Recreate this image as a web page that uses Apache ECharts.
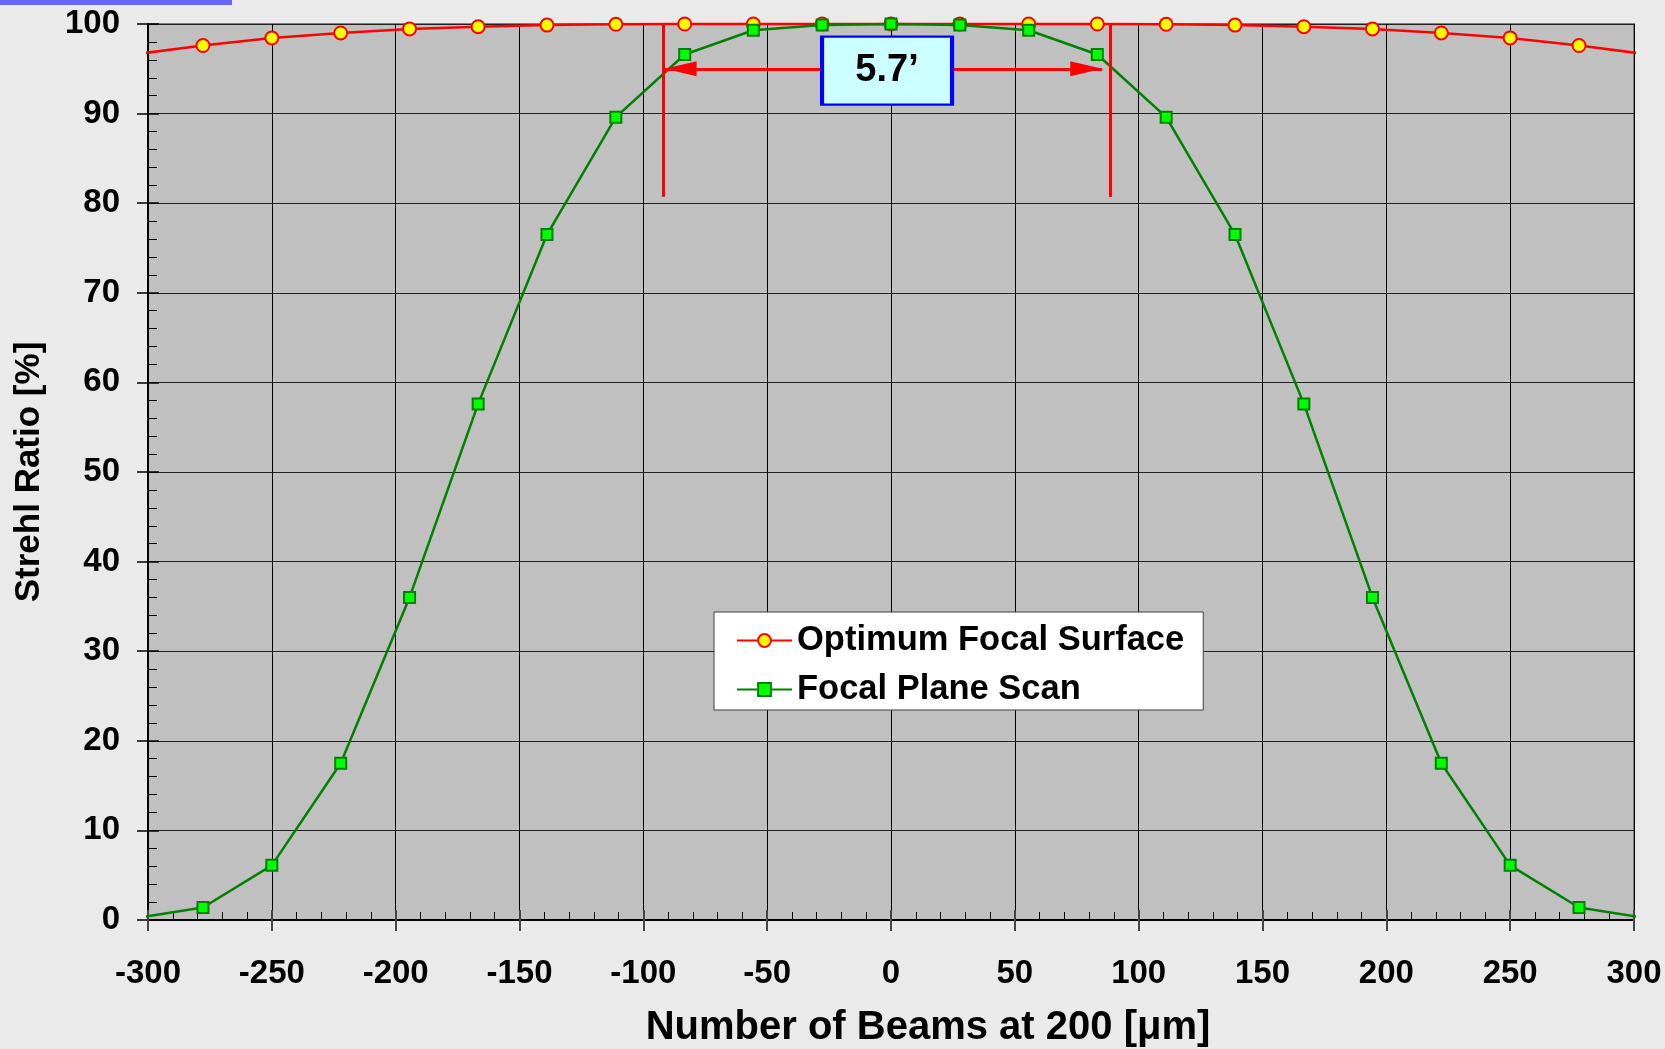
<!DOCTYPE html>
<html>
<head>
<meta charset="utf-8">
<script src="https://cdn.jsdelivr.net/npm/echarts@6/dist/echarts.min.js"></script>
<style>
html,body{margin:0;padding:0;background:#eaeaea;}
#chart{width:1665px;height:1049px;}
</style>
</head>
<body>
<div id="chart"></div>
<script>
// ---- data ----
const xPositions = [-303, -277.8, -250, -222.2, -194.4, -166.7, -138.9, -111.1, -83.3, -55.6, -27.8, 0,
                    27.8, 55.6, 83.3, 111.1, 138.9, 166.7, 194.4, 222.2, 250, 277.8, 303];
const optimumValues = [96.7, 97.6, 98.45, 99.0, 99.45, 99.7, 99.88, 99.97, 100, 100, 100, 100,
                       100, 100, 100, 99.97, 99.88, 99.7, 99.45, 99.0, 98.45, 97.6, 96.7];
const scanValues = [0.3, 1.4, 6.1, 17.5, 36.0, 57.6, 76.5, 89.6, 96.6, 99.3, 99.9, 100,
                    99.9, 99.3, 96.6, 89.6, 76.5, 57.6, 36.0, 17.5, 6.1, 1.4, 0.3];
const seriesNames = ['Optimum Focal Surface', 'Focal Plane Scan'];
const xTitle = 'Number of Beams at 200 [\u03bcm]';
const yTitle = 'Strehl Ratio [%]';
// annotation (data coordinates)
const bracketX = [-92.1, 88.6];
const bracketY = [100, 80.7];
const arrowTipsX = [-91.4, 85.3];
const arrowY = 95;
const boxCenter = [-1.6, 94.8];
const boxLabel = '5.7\u2019';

const FONT = "'Liberation Sans', Arial, sans-serif";

function pairs(xs, ys) {
  return xs.map((x, i) => {
    const item = { value: [x, ys[i]] };
    if (i === 0 || i === xs.length - 1) item.symbol = 'none';
    return item;
  });
}

const chart = echarts.init(document.getElementById('chart'), null, { renderer: 'canvas' });

const commonX = { type: 'value', min: -300, max: 300, interval: 50 };
const commonY = { type: 'value', min: 0, max: 100, interval: 10 };

const option = {
  backgroundColor: '#eaeaea',
  animation: false,
  textStyle: { fontFamily: FONT },
  graphic: [{
    type: 'rect', left: 0, top: 0, shape: { width: 232, height: 5 },
    style: { fill: '#6666ff' }, silent: true
  }],
  grid: {
    left: 148, right: 31, top: 24, bottom: 129,
    containLabel: false, outerBoundsMode: 'none',
    show: true, backgroundColor: '#c0c0c0', borderColor: '#808080', borderWidth: 2
  },
  legend: {
    orient: 'vertical', left: 714, top: 612,
    padding: [11, 19, 3, 22],
    backgroundColor: '#ffffff', borderColor: '#404040', borderWidth: 1,
    itemWidth: 55, itemHeight: 16, itemGap: 14,
    textStyle: { fontSize: 34.5, fontWeight: 'bold', color: '#000', fontFamily: FONT },
    data: seriesNames
  },
  xAxis: [
    Object.assign({}, commonX, {
      position: 'bottom',
      name: xTitle, nameLocation: 'middle', nameGap: 88,
      nameTextStyle: { fontSize: 40, fontWeight: 'bold', color: '#000', fontFamily: FONT, padding: [0, 0, 0, 74] },
      axisLine: { show: true, onZero: false, lineStyle: { color: '#000', width: 2 } },
      axisTick: { show: true, inside: false, length: 11, lineStyle: { color: '#444', width: 2 } },
      axisLabel: { show: true, margin: 37, fontSize: 33, fontWeight: 'bold', color: '#000', fontFamily: FONT },
      splitLine: { show: true, lineStyle: { color: '#000', width: 1 } }
    }),
    Object.assign({}, commonX, {
      position: 'bottom',
      axisLine: { show: false, onZero: false },
      axisTick: { show: true, inside: true, length: 10, lineStyle: { color: '#444', width: 2 } },
      minorTick: { show: true, splitNumber: 5, length: 8, lineStyle: { color: '#000', width: 1 } },
      axisLabel: { show: false },
      splitLine: { show: false }
    })
  ],
  yAxis: [
    Object.assign({}, commonY, {
      position: 'left',
      name: yTitle, nameLocation: 'middle', nameGap: 101, nameRotate: 90,
      nameTextStyle: { fontSize: 35, fontWeight: 'bold', color: '#000', fontFamily: FONT },
      axisLine: { show: true, onZero: false, lineStyle: { color: '#000', width: 2 } },
      axisTick: { show: true, inside: false, length: 11, lineStyle: { color: '#000', width: 1.5 } },
      axisLabel: { show: true, margin: 28, fontSize: 33, fontWeight: 'bold', color: '#000', fontFamily: FONT, padding: [5, 0, 0, 0] },
      splitLine: { show: true, lineStyle: { color: '#222', width: 1 } }
    }),
    Object.assign({}, commonY, {
      position: 'left',
      axisLine: { show: false, onZero: false },
      axisTick: { show: true, inside: true, length: 11, lineStyle: { color: '#000', width: 1.5 } },
      minorTick: { show: true, splitNumber: 5, length: 9, lineStyle: { color: '#000', width: 1 } },
      axisLabel: { show: false },
      splitLine: { show: false }
    })
  ],
  series: [
    {
      name: seriesNames[0], type: 'line', xAxisIndex: 0, yAxisIndex: 0,
      clip: false, z: 3,
      data: pairs(xPositions, optimumValues),
      symbol: 'circle', symbolSize: 13,
      lineStyle: { color: '#ff0000', width: 2.5 },
      itemStyle: { color: '#ffff00', borderColor: '#ff0000', borderWidth: 2 },
      emphasis: { disabled: true }
    },
    {
      name: seriesNames[1], type: 'line', xAxisIndex: 0, yAxisIndex: 0,
      clip: false, z: 4,
      data: pairs(xPositions, scanValues),
      symbol: 'rect', symbolSize: 11,
      lineStyle: { color: '#008000', width: 2.5 },
      itemStyle: { color: '#00ff00', borderColor: '#008000', borderWidth: 2 },
      emphasis: { disabled: true }
    },
    {
      name: 'annotation', type: 'line', xAxisIndex: 0, yAxisIndex: 0,
      data: [], silent: true, z: 5,
      markLine: {
        silent: true, animation: false,
        label: { show: false },
        emphasis: { disabled: true },
        lineStyle: { color: '#ff0000', width: 3, type: 'solid' },
        symbol: ['none', 'none'],
        data: [
          [{ coord: [bracketX[0], bracketY[0]] }, { coord: [bracketX[0], bracketY[1]] }],
          [{ coord: [bracketX[1], bracketY[0]] }, { coord: [bracketX[1], bracketY[1]] }],
          [{ coord: [arrowTipsX[0], arrowY], symbol: 'triangle', symbolSize: [15, 32], symbolOffset: [0, 16] },
           { coord: [arrowTipsX[1], arrowY], symbol: 'triangle', symbolSize: [15, 32], symbolOffset: [0, 16] }]
        ]
      },
      markPoint: {
        silent: true, animation: false, z: 10,
        symbol: 'rect', symbolSize: [130, 68],
        itemStyle: { color: '#ccffff', borderColor: '#0000ff', borderWidth: 3 },
        label: { show: true, position: 'inside', formatter: boxLabel, fontSize: 38, fontWeight: 'bold', color: '#000', fontFamily: FONT, padding: [4, 0, 0, 0] },
        data: [{ coord: boxCenter }]
      }
    }
  ]
};
chart.setOption(option);
</script>
</body>
</html>
